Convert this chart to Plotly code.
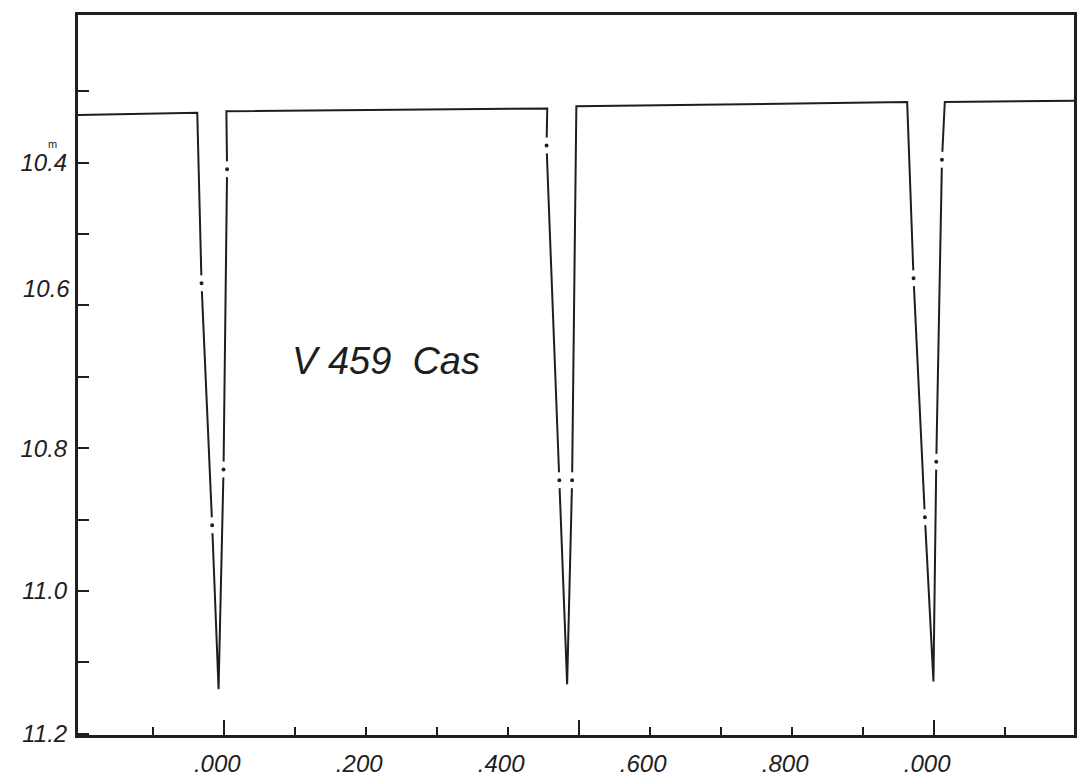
import plotly.graph_objects as go

# Light-curve vertices (phase, magnitude)
curve_phase = [-0.206, -0.038, -0.032, -0.017, -0.008, -0.001, 0.004, 0.003,
               0.455, 0.454, 0.472, 0.483, 0.490, 0.496,
               0.962, 0.971, 0.987, 0.999, 1.003, 1.011, 1.015, 1.197]
curve_mag = [10.333, 10.330, 10.569, 10.908, 11.138, 10.830, 10.409, 10.328,
             10.324, 10.376, 10.845, 11.131, 10.845, 10.321,
             10.315, 10.562, 10.897, 11.127, 10.819, 10.396, 10.315, 10.313]

# Observed points (drawn as dots with the line broken around them)
obs_phase = [-0.032, -0.017, -0.001, 0.004, 0.454, 0.472, 0.490, 0.971, 0.987, 1.003, 1.011]
obs_mag = [10.569, 10.908, 10.830, 10.409, 10.376, 10.845, 10.845, 10.562, 10.897, 10.819, 10.396]

x_ticks = [-0.1, 0.0, 0.1, 0.2, 0.3, 0.4, 0.5, 0.6, 0.7, 0.8, 0.9, 1.0, 1.1]
x_ticktext = ["", ".000", "", ".200", "", ".400", "", ".600", "", ".800", "", ".000", ""]
x_major = [0.0, 0.5, 1.0]
y_ticks = [10.3, 10.4, 10.5, 10.6, 10.7, 10.8, 10.9, 11.0, 11.1, 11.2]
y_ticktext = ["", "10.4", "", "", "", "10.8", "", "11.0", "", "11.2"]
# the 10.6 label is lettered a little above its tick in the original
y_label_106 = "10.6"
y_label_106_pos = 10.576

title_text = "V 459  Cas"

INK = "#1e1e1e"
FONT = dict(family="Liberation Sans", size=24, color=INK, style="italic")

fig = go.Figure()
fig.add_trace(go.Scatter(x=curve_phase, y=curve_mag, mode="lines",
                         line=dict(color=INK, width=2), hoverinfo="skip",
                         showlegend=False))
fig.add_trace(go.Scatter(x=obs_phase, y=obs_mag, mode="markers",
                         marker=dict(size=10, color=INK, line=dict(color="white", width=6)),
                         showlegend=False))
# invisible trace so the overlay axis (long ticks) is rendered
fig.add_trace(go.Scatter(x=x_major, y=[None] * len(x_major), xaxis="x2",
                         mode="markers", showlegend=False, hoverinfo="skip"))

fig.add_annotation(x=0.228, y=10.678, text=title_text, showarrow=False,
                   font=dict(family="Liberation Sans", size=38, color=INK, style="italic"))
fig.add_annotation(xref="paper", x=-0.031, y=10.384, text="m", showarrow=False,
                   yanchor="bottom", borderpad=0,
                   font=dict(family="Liberation Sans", size=11, color=INK))
fig.add_annotation(xref="paper", x=-0.006, xanchor="right", y=y_label_106_pos,
                   text=y_label_106, showarrow=False, font=FONT)

xr = [-0.206, 1.197]
fig.update_layout(
    width=1079, height=779,
    margin=dict(l=78, r=2, t=15, b=42),
    paper_bgcolor="white", plot_bgcolor="white",
    xaxis=dict(range=xr, tickvals=x_ticks, ticktext=x_ticktext,
               ticks="inside", ticklen=8, tickwidth=2, tickcolor=INK,
               showline=True, linewidth=3, linecolor=INK, mirror=True,
               showgrid=False, zeroline=False, tickfont=FONT,
               ticklabelstandoff=5, ticklabelshift=-7),
    xaxis2=dict(range=xr, overlaying="x", side="bottom", tickvals=x_major,
                ticks="inside", ticklen=15, tickwidth=2, tickcolor=INK,
                showticklabels=False, showline=False, showgrid=False, zeroline=False),
    yaxis=dict(range=[11.202, 10.193], tickvals=y_ticks, ticktext=y_ticktext,
               ticks="inside", ticklen=11, tickwidth=2, tickcolor=INK,
               showline=True, linewidth=3, linecolor=INK, mirror=True,
               showgrid=False, zeroline=False, tickfont=FONT,
               ticklabelstandoff=3),
)

fig.write_html("out.html", config={"displayModeBar": False},
               post_script="document.body.style.margin='0';document.body.style.overflow='hidden';")
